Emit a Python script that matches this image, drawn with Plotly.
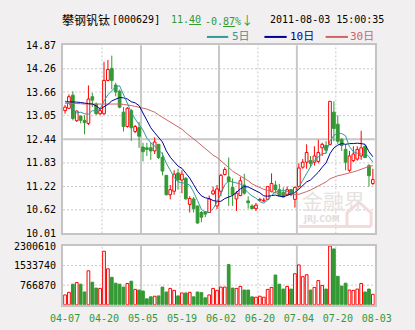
import plotly.graph_objects as go

# ---- data -------------------------------------------------------------
TICK_DATES = ["04-07", "04-20", "05-05", "05-19", "06-02", "06-20", "07-04", "07-20", "08-03"]
PRICE_TICKS = [10.01, 10.62, 11.22, 11.83, 12.44, 13.05, 13.66, 14.26, 14.87]
VOLUME_TICKS = [766870, 1533740, 2300610]

opens = [13.18, 13.24, 13.58, 12.92, 13.04, 12.93, 12.85, 13.54, 13.35, 13.10,
         13.10, 13.96, 14.27, 13.84, 13.68, 13.14, 12.77, 13.18, 12.64, 12.74,
         12.24, 12.22, 12.22, 12.14, 12.31, 11.97, 11.51, 11.01, 11.10, 11.57,
         11.39, 11.43, 10.76, 10.90, 10.72, 10.55, 10.57, 10.55, 11.03, 10.72,
         11.10, 11.53, 11.47, 11.20, 10.90, 10.99, 11.26, 10.85, 10.72, 10.65,
         10.87, 10.85, 10.89, 11.10, 11.26, 11.14, 11.07, 11.01, 11.14, 10.89,
         11.22, 11.72, 11.85, 11.89, 11.85, 11.87, 12.22, 12.28, 12.31, 13.14,
         12.83, 12.44, 12.18, 11.64, 11.89, 11.93, 12.01, 12.26, 11.76, 11.30]
highs = [13.33, 13.60, 13.68, 13.18, 13.05, 13.06, 13.83, 13.64, 13.39, 13.27,
         14.44, 14.49, 14.60, 13.90, 13.72, 13.27, 13.27, 13.22, 12.81, 12.89,
         12.35, 12.35, 12.35, 12.49, 12.31, 12.10, 11.51, 11.26, 11.64, 11.68,
         11.64, 11.47, 10.97, 10.95, 10.72, 10.59, 10.59, 10.99, 11.22, 11.26,
         11.55, 11.72, 11.97, 11.43, 11.10, 11.47, 11.55, 10.97, 10.76, 10.80,
         10.93, 10.93, 11.22, 11.56, 11.37, 11.29, 11.20, 11.22, 11.16, 11.22,
         11.82, 11.93, 12.31, 12.01, 12.26, 12.43, 12.35, 12.39, 13.42, 13.42,
         13.06, 12.47, 12.31, 12.14, 12.26, 12.26, 12.66, 12.28, 11.80, 11.68]
lows = [13.10, 13.22, 12.93, 12.89, 12.85, 12.57, 12.81, 13.27, 13.07, 13.07,
        13.07, 13.94, 13.73, 13.55, 13.24, 12.64, 12.74, 12.40, 12.60, 12.22,
        11.87, 12.01, 11.91, 12.06, 11.93, 11.51, 10.99, 10.89, 11.01, 11.14,
        11.05, 10.89, 10.55, 10.55, 10.26, 10.30, 10.43, 10.55, 11.01, 10.64,
        10.97, 11.51, 10.72, 10.72, 10.59, 10.97, 11.01, 10.65, 10.64, 10.59,
        10.85, 10.82, 10.87, 11.07, 11.05, 10.97, 10.93, 10.99, 10.97, 10.68,
        11.22, 11.68, 11.68, 11.72, 11.76, 11.82, 12.01, 12.08, 12.28, 12.39,
        12.32, 12.14, 11.64, 11.60, 11.85, 11.89, 11.91, 11.95, 11.22, 11.26]
closes = [13.27, 13.54, 12.98, 13.17, 12.93, 12.87, 13.48, 13.45, 13.10, 13.18,
          13.96, 14.24, 13.96, 13.66, 13.27, 12.77, 13.24, 12.74, 12.77, 12.52,
          12.12, 12.18, 12.14, 12.37, 11.97, 11.62, 11.01, 11.14, 11.54, 11.39,
          11.54, 10.90, 10.91, 10.65, 10.28, 10.43, 10.51, 10.90, 11.11, 11.16,
          11.51, 11.66, 11.35, 11.01, 11.05, 11.37, 11.05, 10.80, 10.65, 10.74,
          10.89, 10.87, 11.22, 11.30, 11.14, 10.99, 10.95, 11.14, 11.01, 11.20,
          11.70, 11.85, 12.10, 11.82, 12.01, 12.10, 12.31, 12.16, 13.42, 12.72,
          12.39, 12.28, 11.85, 12.01, 12.06, 12.18, 12.22, 11.97, 11.50, 11.40]
volumes = [383000, 486000, 805000, 869000, 805000, 498000, 1329000, 882000, 652000, 639000,
           2096000, 1406000, 1074000, 844000, 805000, 690000, 831000, 920000, 601000, 575000,
           537000, 230000, 307000, 332000, 345000, 690000, 498000, 639000, 562000, 345000,
           460000, 460000, 486000, 307000, 498000, 473000, 268000, 383000, 639000, 562000,
           690000, 690000, 1572000, 652000, 639000, 716000, 575000, 575000, 307000, 294000,
           332000, 294000, 601000, 677000, 1163000, 805000, 613000, 716000, 613000, 1214000,
           1559000, 1099000, 1176000, 575000, 677000, 946000, 754000, 613000, 2300610, 2186000,
           1112000, 729000, 844000, 575000, 562000, 613000, 831000, 498000, 613000, 409000]
ma5 = [13.43, 13.37, 13.22, 13.12, 13.14, 13.10, 13.09, 13.18, 13.17, 13.22,
       13.43, 13.59, 13.69, 13.80, 13.82, 13.58, 13.38, 13.14, 12.96, 12.81,
       12.68, 12.47, 12.35, 12.27, 12.16, 12.06, 11.82, 11.62, 11.46, 11.34,
       11.32, 11.30, 11.26, 11.08, 10.86, 10.63, 10.56, 10.55, 10.65, 10.82,
       11.04, 11.27, 11.36, 11.34, 11.32, 11.29, 11.17, 11.06, 10.98, 10.92,
       10.83, 10.79, 10.87, 11.00, 11.08, 11.10, 11.12, 11.10, 11.05, 11.06,
       11.20, 11.38, 11.57, 11.73, 11.90, 11.98, 12.07, 12.08, 12.40, 12.54,
       12.60, 12.59, 12.53, 12.25, 12.12, 12.08, 12.06, 12.09, 11.99, 11.85]
ma10 = [13.41, 13.41, 13.40, 13.40, 13.39, 13.37, 13.36, 13.35, 13.30, 13.22,
        13.27, 13.34, 13.43, 13.48, 13.52, 13.51, 13.48, 13.41, 13.38, 13.31,
        13.13, 12.92, 12.74, 12.61, 12.48, 12.37, 12.14, 11.98, 11.86, 11.75,
        11.69, 11.56, 11.44, 11.27, 11.10, 10.98, 10.93, 10.91, 10.86, 10.84,
        10.84, 10.91, 10.96, 10.99, 11.07, 11.16, 11.22, 11.21, 11.16, 11.12,
        11.06, 10.98, 10.97, 10.99, 11.00, 10.97, 10.96, 10.99, 11.03, 11.07,
        11.15, 11.25, 11.34, 11.39, 11.48, 11.59, 11.72, 11.83, 12.07, 12.22,
        12.29, 12.33, 12.31, 12.33, 12.33, 12.34, 12.33, 12.31, 12.12, 11.99]
ma30 = [13.37, 13.37, 13.36, 13.36, 13.36, 13.35, 13.35, 13.35, 13.35, 13.35,
        13.35, 13.36, 13.36, 13.36, 13.35, 13.34, 13.33, 13.31, 13.29, 13.27,
        13.25, 13.22, 13.18, 13.14, 13.07, 13.01, 12.95, 12.89, 12.82, 12.75,
        12.70, 12.61, 12.54, 12.45, 12.37, 12.28, 12.19, 12.10, 12.03, 11.97,
        11.89, 11.80, 11.71, 11.62, 11.55, 11.50, 11.43, 11.37, 11.29, 11.24,
        11.19, 11.15, 11.12, 11.08, 11.06, 11.04, 11.03, 11.03, 11.02, 11.01,
        11.02, 11.05, 11.09, 11.13, 11.18, 11.24, 11.30, 11.34, 11.42, 11.47,
        11.50, 11.52, 11.54, 11.57, 11.60, 11.63, 11.67, 11.71, 11.74, 11.76]

# ---- styling ----------------------------------------------------------
W, H = 415, 330
RED = "#ff0000"
GREEN = "#339933"
C_MA5 = "#339999"
C_MA10 = "#000099"
C_MA30 = "#cc6666"
FRAME = "#c4c4c4"
GRID = "#c8c8c8"
MONO = "DejaVu Sans Mono"
CJK = "Noto Sans CJK SC"
MIXED = "DejaVu Sans Mono, Noto Sans CJK SC"
BAR_W = 0.7


def px_x(px):
    return px / W


def px_y(py):
    return 1 - py / H


n = len(closes)
idx = list(range(n))
rising = [c >= o for o, c in zip(opens, closes)]

fig = go.Figure()


def wicks(want_up):
    xs, ys = [], []
    for i in idx:
        if rising[i] != want_up:
            continue
        top = max(opens[i], closes[i])
        bot = min(opens[i], closes[i])
        xs += [i, i, None, i, i, None]
        ys += [highs[i], top, None, bot, lows[i], None]
    return xs, ys


for want_up, col in ((True, RED), (False, GREEN)):
    wx, wy = wicks(want_up)
    fig.add_trace(go.Scatter(x=wx, y=wy, mode="lines", line=dict(color=col, width=1),
                             xaxis="x", yaxis="y", hoverinfo="skip"))

# candle bodies
for want_up, fill, col in ((True, "#ffffff", RED), (False, GREEN, GREEN)):
    sel = [i for i in idx if rising[i] == want_up]
    fig.add_trace(go.Bar(
        x=sel,
        y=[max(abs(closes[i] - opens[i]), 0.015) for i in sel],
        base=[min(opens[i], closes[i]) for i in sel],
        width=BAR_W,
        marker=dict(color=fill, line=dict(color=col, width=1)),
        xaxis="x", yaxis="y", hoverinfo="skip"))

# moving averages
for vals, col in ((ma30, C_MA30), (ma10, C_MA10), (ma5, C_MA5)):
    fig.add_trace(go.Scatter(x=idx, y=vals, mode="lines", line=dict(color=col, width=1),
                             xaxis="x", yaxis="y", hoverinfo="skip"))

# volume
for want_up, fill, col in ((True, "#ffffff", RED), (False, GREEN, GREEN)):
    sel = [i for i in idx if rising[i] == want_up]
    fig.add_trace(go.Bar(
        x=sel, y=[volumes[i] for i in sel], width=BAR_W,
        marker=dict(color=fill, line=dict(color=col, width=1)),
        xaxis="x2", yaxis="y2", hoverinfo="skip"))

# ---- axes ---------------------------------------------------------------
x_dom = [px_x(54), px_x(390)]
price_dom = [px_y(235.3), px_y(40.5)]
vol_dom = [px_y(309), px_y(248.3)]
x_range = [-0.5, n - 0.5]
grid_x = [-0.5 + 10 * k for k in range(len(TICK_DATES))]

frame = dict(showline=True, mirror=True, linecolor=FRAME, linewidth=2,
             showgrid=False, zeroline=False, ticks="", fixedrange=True)

fig.update_layout(
    width=W, height=H, autosize=False,
    margin=dict(l=0, r=0, t=0, b=0),
    paper_bgcolor="#f1efef", plot_bgcolor="#ffffff",
    barmode="overlay", showlegend=False,
    xaxis=dict(domain=x_dom, range=x_range, anchor="y", showticklabels=False, **frame),
    yaxis=dict(domain=price_dom, range=[PRICE_TICKS[0], PRICE_TICKS[-1]], anchor="x",
               tickvals=PRICE_TICKS, ticktext=[f"{v:.2f}" for v in PRICE_TICKS],
               tickfont=dict(family=MONO, size=10, color="#000000"),
               ticklabelstandoff=3, **frame),
    xaxis2=dict(domain=x_dom, range=x_range, anchor="y2",
                tickvals=grid_x, ticktext=TICK_DATES,
                tickfont=dict(family=MONO, size=10, color=GREEN),
                ticklabelshift=2, ticklabelstandoff=3, **frame),
    yaxis2=dict(domain=vol_dom, range=[0, VOLUME_TICKS[-1]], anchor="x2",
                tickvals=VOLUME_TICKS, ticktext=[str(v) for v in VOLUME_TICKS],
                tickfont=dict(family=MONO, size=10, color="#000000"),
                ticklabelstandoff=3, **frame),
)

# ---- grid lines -----------------------------------------------------------
shapes = []
mid = len(PRICE_TICKS) // 2
for k, v in enumerate(PRICE_TICKS[1:-1], start=1):
    solid = k == mid
    shapes.append(dict(type="line", xref="x domain", yref="y", x0=0, x1=1, y0=v, y1=v,
                       layer="below",
                       line=dict(color=GRID, width=2 if solid else 1,
                                 dash="solid" if solid else "2px,2px")))
for v in VOLUME_TICKS[:-1]:
    shapes.append(dict(type="line", xref="x2 domain", yref="y2", x0=0, x1=1, y0=v, y1=v,
                       layer="below", line=dict(color=GRID, width=1, dash="2px,2px")))
for k, gx in enumerate(grid_x[1:-1], start=1):
    solid = k % 2 == 0
    for xr, yr in (("x", "y domain"), ("x2", "y2 domain")):
        shapes.append(dict(type="line", xref=xr, yref=yr, x0=gx, x1=gx, y0=0, y1=1,
                           layer="below",
                           line=dict(color=GRID, width=2 if solid else 1,
                                     dash="solid" if solid else "2px,2px")))

# watermark base and roof
WM = "#f5dada"
shapes.append(dict(type="path", xref="paper", yref="paper", layer="below",
                   path=(f"M{px_x(308)},{px_y(228)} L{px_x(386)},{px_y(228)} "
                         f"M{px_x(360)},{px_y(228)} L{px_x(360)},{px_y(214)} "
                         f"L{px_x(373)},{px_y(203)} L{px_x(386)},{px_y(214)} "
                         f"L{px_x(386)},{px_y(228)}"),
                   line=dict(color=WM, width=3)))

# legend swatches
for x0, x1, col in ((209, 232, C_MA5), (271, 295, C_MA10), (337, 361, C_MA30)):
    shapes.append(dict(type="line", xref="paper", yref="paper",
                       x0=px_x(x0), x1=px_x(x1), y0=px_y(32), y1=px_y(32),
                       line=dict(color=col, width=2)))
fig.update_layout(shapes=shapes)

# ---- header, legend and watermark text -------------------------------------


def label(text, x, y, family, size, color, anchor="left"):
    fig.add_annotation(text=text, x=px_x(x), y=px_y(y), xref="paper", yref="paper",
                       xanchor=anchor, yanchor="middle", showarrow=False,
                       borderpad=0, font=dict(family=family, size=size, color=color))


label("攀钢钒钛", 52, 14, CJK, 12, "#000000")
label("[000629]", 106, 14, MONO, 10, "#000000")
label("11.<u>40</u>", 169, 14, MONO, 10, GREEN)
label("-0.<u>87</u>%<span style='font-family:Noto Sans CJK SC;font-size:12px'>↓</span>",
      206, 14, MONO, 10, GREEN)
label("2011-08-03 15:00:35", 276, 14, MONO, 10, "#000000")
label("5日", 235, 32, MIXED, 11, C_MA5)
label("10日", 297, 32, MIXED, 11, C_MA10)
label("30日", 362, 32, MIXED, 11, C_MA30)
label("金融界", 346, 201, CJK, 21, "#e6e2e2", anchor="center")
label("<b>JRJ.COM</b>", 332, 221, "DejaVu Sans", 8, "#e2dede", anchor="center")

fig.write_html("out.html")
